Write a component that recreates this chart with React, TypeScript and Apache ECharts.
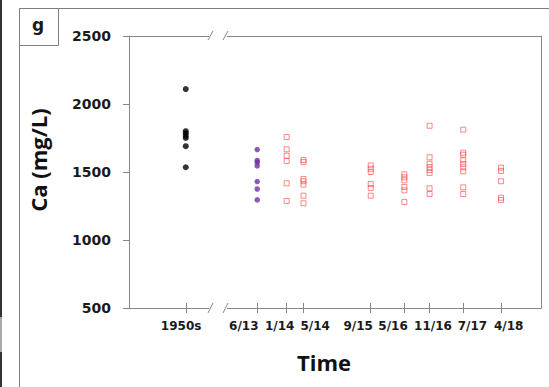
import React, { useEffect, useRef } from "react";
import * as echarts from "echarts";

// x positions are months since Jan 2013; the 1950s group sits before the axis break
const timeLabels = ["1950s", "6/13", "1/14", "5/14", "9/15", "5/16", "11/16", "7/17", "4/18"];
const sampleMonth = [-12, 5, 12, 16, 32, 40, 46, 54, 63];
const labelAt = [-13.1, 1.8, 10.35, 18.8, 29.0, 37.3, 46.8, 56.2, 64.8];

const ca1950s = [2110, 1800, 1785, 1765, 1750, 1690, 1535];
const ca613 = [1665, 1585, 1570, 1545, 1430, 1375, 1295];
const ca114 = [1757, 1667, 1620, 1581, 1417, 1287];
const ca514 = [1588, 1574, 1449, 1432, 1407, 1326, 1270];
const ca915 = [1549, 1524, 1500, 1412, 1382, 1326];
const ca516 = [1483, 1461, 1439, 1390, 1365, 1279];
const ca1116 = [1840, 1608, 1561, 1537, 1515, 1493, 1380, 1338];
const ca717 = [1811, 1642, 1627, 1586, 1559, 1535, 1505, 1387, 1338];
const ca418 = [1532, 1507, 1432, 1311, 1294];

const yTicks = [500, 1000, 1500, 2000, 2500];

const redGroups = [ca114, ca514, ca915, ca516, ca1116, ca717, ca418];

export default function App() {
  const ref = useRef<HTMLDivElement>(null);
  useEffect(() => {
    if (!ref.current) return;
    const chart = echarts.init(ref.current, null, { renderer: "svg" });
    const pairs = (m: number, vals: number[]) => vals.map((v) => [m, v]);
    const redData: number[][] = [];
    redGroups.forEach((g, i) => redData.push(...pairs(sampleMonth[i + 2], g)));
    const axisColor = "#868686";
    const frameColor = "#7f7f7f";
    const labelFor = (v: number) => {
      let best = 0;
      labelAt.forEach((p, i) => {
        if (Math.abs(p - v) < Math.abs(labelAt[best] - v)) best = i;
      });
      return timeLabels[best];
    };
    chart.setOption({
      animation: false,
      backgroundColor: "#fff",
      grid: { left: 129, right: 8, top: 36, bottom: 79 },
      xAxis: [
        {
          type: "value",
          min: -25.5,
          max: 72.5,
          position: "bottom",
          splitLine: { show: false },
          axisLine: { show: true, onZero: false, lineStyle: { color: axisColor, width: 1 } },
          axisTick: { show: true, inside: false, length: 5, customValues: sampleMonth, lineStyle: { color: axisColor } },
          axisLabel: {
            show: true,
            customValues: labelAt,
            formatter: (v: number) => labelFor(v),
            margin: 12,
            fontFamily: "DejaVu Sans",
            fontWeight: "bold",
            fontSize: 12,
            color: "#1a1a1a",
          },
        },
        {
          type: "value",
          min: -25.5,
          max: 72.5,
          position: "bottom",
          splitLine: { show: false },
          axisLine: { show: false },
          axisTick: { show: true, inside: true, length: 5, customValues: sampleMonth, lineStyle: { color: axisColor } },
          axisLabel: { show: false },
        },
        {
          type: "value",
          min: -25.5,
          max: 72.5,
          position: "top",
          splitLine: { show: false },
          axisLine: { show: true, onZero: false, lineStyle: { color: axisColor } },
          axisTick: { show: false },
          axisLabel: { show: false },
        },
      ],
      yAxis: [
        {
          type: "value",
          min: 500,
          max: 2500,
          interval: 500,
          splitLine: { show: false },
          axisLine: { show: true, onZero: false, lineStyle: { color: axisColor } },
          axisTick: { show: true, inside: false, length: 6, lineStyle: { color: axisColor } },
          axisLabel: {
            margin: 18,
            fontFamily: "DejaVu Sans",
            fontWeight: "bold",
            fontSize: 14,
            color: "#1a1a1a",
            customValues: yTicks,
            formatter: (v: number) => String(v),
          },
        },
        {
          type: "value",
          min: 500,
          max: 2500,
          interval: 500,
          position: "right",
          splitLine: { show: false },
          axisLine: { show: true, onZero: false, lineStyle: { color: axisColor } },
          axisTick: { show: false },
          axisLabel: { show: false },
        },
      ],
      series: [
        {
          type: "scatter",
          name: "1950s",
          symbol: "circle",
          symbolSize: 6,
          itemStyle: { color: "#000" },
          data: pairs(sampleMonth[0], ca1950s),
        },
        {
          type: "scatter",
          name: "6/13",
          symbol: "circle",
          symbolSize: 5.5,
          itemStyle: { color: "#7030a0" },
          data: pairs(sampleMonth[1], ca613),
        },
        {
          type: "scatter",
          name: "2014-2018",
          symbol: "rect",
          symbolSize: 5,
          itemStyle: { color: "rgba(255,255,255,0)", borderColor: "rgba(255,70,70,0.8)", borderWidth: 1 },
          data: redData,
        },
      ],
      graphic: [
        // outer panel frame
        { type: "line", z: 100, shape: { x1: 19.5, y1: 8.5, x2: 549, y2: 8.5 }, style: { stroke: frameColor, lineWidth: 1 } },
        { type: "line", z: 100, shape: { x1: 19.5, y1: 8.5, x2: 19.5, y2: 387 }, style: { stroke: frameColor, lineWidth: 1 } },
        { type: "rect", z: 100, shape: { x: 19.5, y: 8.5, width: 39, height: 37 }, style: { fill: "#fff", stroke: frameColor, lineWidth: 1 } },
        { type: "text", z: 101, x: 38, y: 25, style: { text: "g", font: "bold 17px 'DejaVu Sans'", fill: "#1a1a1a", align: "center", verticalAlign: "middle" } },
        { type: "line", z: 100, shape: { x1: 1, y1: 0, x2: 1, y2: 317 }, style: { stroke: "#333", lineWidth: 2 } },
        { type: "line", z: 100, shape: { x1: 1, y1: 317, x2: 1, y2: 352 }, style: { stroke: "#aaa", lineWidth: 2 } },
        { type: "line", z: 100, shape: { x1: 1, y1: 352, x2: 1, y2: 387 }, style: { stroke: "#333", lineWidth: 2 } },
        // axis break marks
        { type: "rect", z: 100, shape: { x: 209, y: 32, width: 18, height: 8 }, style: { fill: "#fff" } },
        { type: "rect", z: 100, shape: { x: 209, y: 304, width: 18, height: 8 }, style: { fill: "#fff" } },
        { type: "line", z: 101, shape: { x1: 208, y1: 40, x2: 213, y2: 31 }, style: { stroke: axisColor, lineWidth: 1 } },
        { type: "line", z: 101, shape: { x1: 223, y1: 40, x2: 228, y2: 31 }, style: { stroke: axisColor, lineWidth: 1 } },
        { type: "line", z: 101, shape: { x1: 208, y1: 313, x2: 213, y2: 303 }, style: { stroke: axisColor, lineWidth: 1 } },
        { type: "line", z: 101, shape: { x1: 223, y1: 313, x2: 228, y2: 303 }, style: { stroke: axisColor, lineWidth: 1 } },
        // axis titles
        { type: "text", z: 101, x: 324, y: 362, style: { text: "Time", font: "bold 22px 'Open Sans'", fill: "#111", align: "center", verticalAlign: "middle" } },
        { type: "text", z: 101, x: 38, y: 160, rotation: Math.PI / 2, style: { text: "Ca (mg/L)", font: "bold 22px 'Open Sans'", fill: "#111", align: "center", verticalAlign: "middle" } },
      ],
    });
    return () => chart.dispose();
  }, []);
  return <div ref={ref} style={{ position: "fixed", left: 0, top: 0, width: 549, height: 387 }} />;
}
